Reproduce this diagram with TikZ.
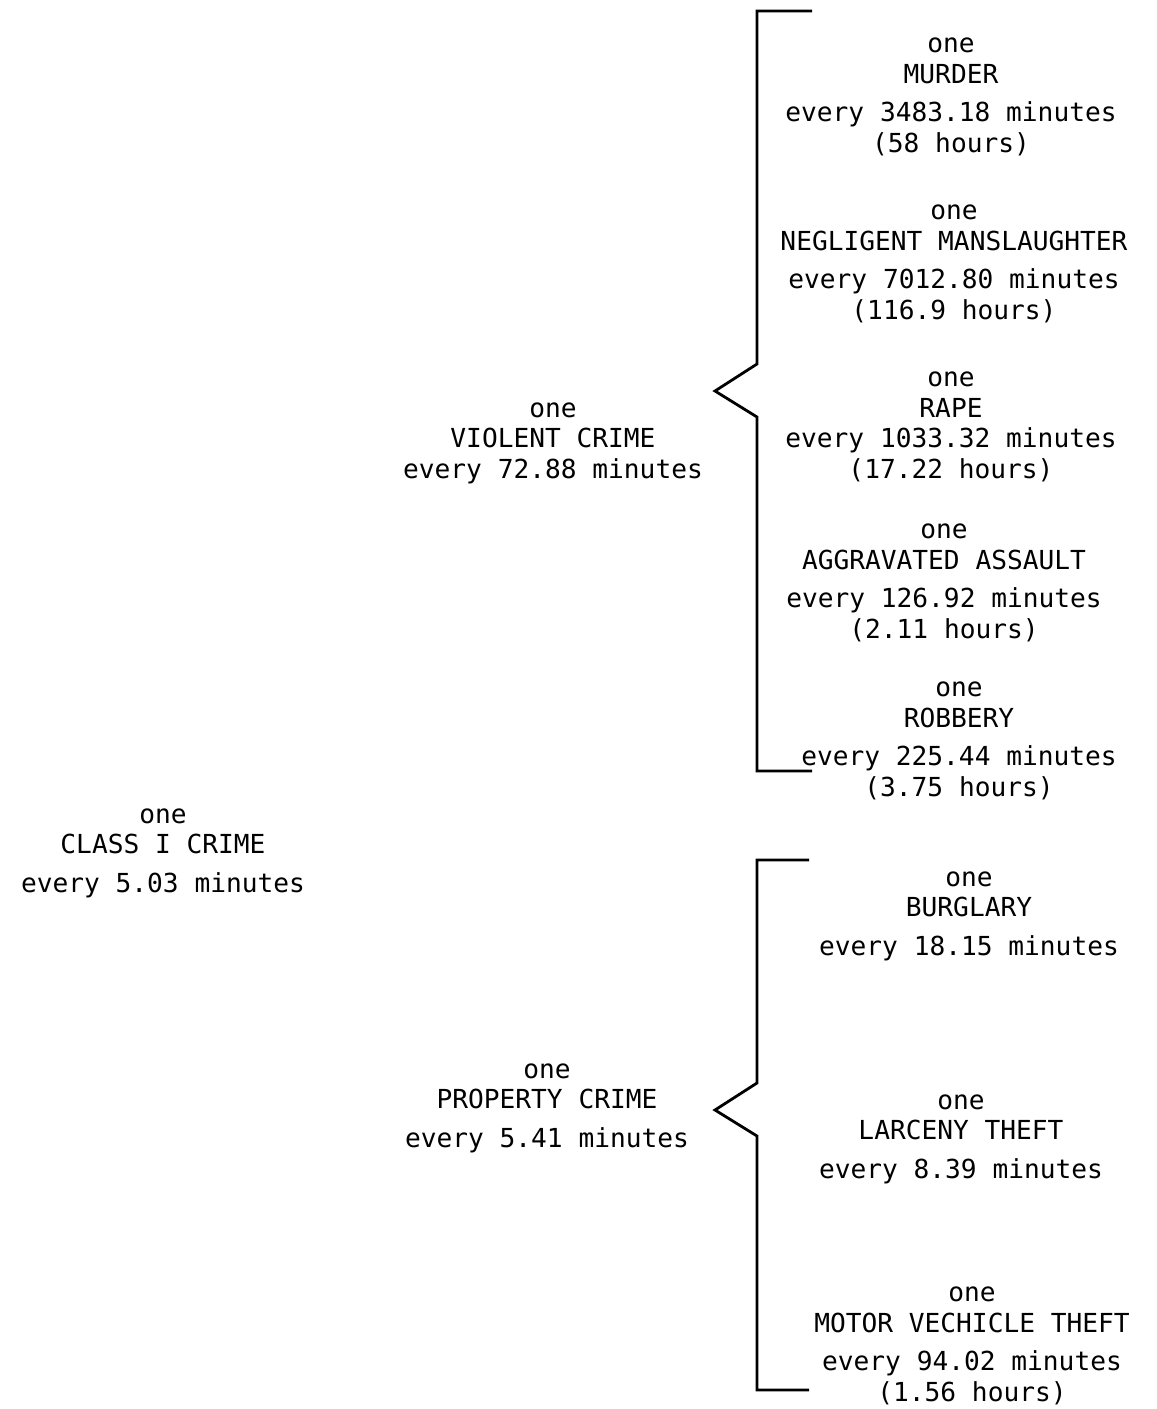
\documentclass[tikz,border=0pt]{standalone}
\usepackage{fontspec}
\setmonofont{DejaVu Sans Mono}
\usepackage{tikz}
\usetikzlibrary{positioning,calc}

\tikzset{
  typed/.style={align=center,inner sep=0pt,anchor=base,
    font=\ttfamily\fontsize{13.1}{15.25}\selectfont},
  bracket/.style={line width=1.4pt,line join=miter}
}

\begin{document}
\begin{tikzpicture}[x=0.5pt,y=-0.5pt]
\useasboundingbox (0,0) rectangle (1157,1409);

\node[typed] (class) at (163,892) {one\\CLASS I CRIME\\[4pt]every 5.03 minutes};

\node[typed] (violent) at (553,478) {one\\VIOLENT CRIME\\every 72.88 minutes};
\node[typed] (property) at (547,1147) {one\\PROPERTY CRIME\\[4pt]every 5.41 minutes};

\node[typed] (murder) at (951,152) {one\\MURDER\\[4pt]every 3483.18 minutes\\(58 hours)};
\node[typed] (mansl) at (954,319) {one\\NEGLIGENT MANSLAUGHTER\\[4pt]every 7012.80 minutes\\(116.9 hours)};
\node[typed] (rape) at (951,478) {one\\RAPE\\every 1033.32 minutes\\(17.22 hours)};
\node[typed] (assault) at (944,638) {one\\AGGRAVATED ASSAULT\\[4pt]every 126.92 minutes\\(2.11 hours)};
\node[typed] (robbery) at (959,796) {one\\ROBBERY\\[4pt]every 225.44 minutes\\(3.75 hours)};

\node[typed] (burglary) at (969,955) {one\\BURGLARY\\[4pt]every 18.15 minutes};
\node[typed] (larceny) at (961,1178) {one\\LARCENY THEFT\\[4pt]every 8.39 minutes};
\node[typed] (motor) at (972,1401) {one\\MOTOR VECHICLE THEFT\\[4pt]every 94.02 minutes\\(1.56 hours)};

\foreach \name/\top/\tip/\bot/\len in {v/11/391/771/55,p/860/1110/1390/52} {
    \coordinate (\name T) at (757,\top);
    \coordinate (\name B) at (757,\bot);
    \coordinate (\name K) at (715,\tip);
    \draw[bracket] ($(\name T)+(\len,0)$) -- (\name T) -- ($(757,\tip)+(0,-27)$)
        -- (\name K) -- ($(757,\tip)+(0,26)$) -- (\name B) -- ($(\name B)+(\len,0)$);
}
\end{tikzpicture}
\end{document}
